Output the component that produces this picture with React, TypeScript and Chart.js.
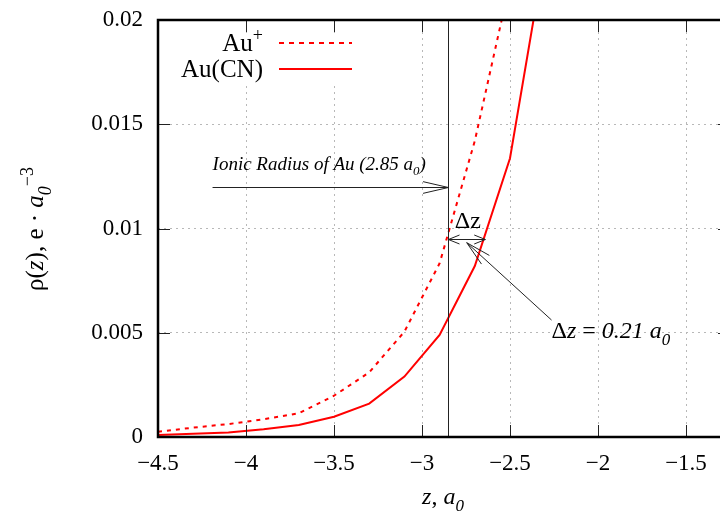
import React, { useEffect, useRef } from "react";
import { Chart, registerables } from "chart.js";

Chart.register(...registerables);

// ---- data ----
const zPoints = [-4.5, -4.3, -4.1, -3.9, -3.7, -3.5, -3.3, -3.1, -2.9, -2.7, -2.5, -2.3];
const rhoAuPlus = [0.00025, 0.00045, 0.00062, 0.00085, 0.00114, 0.00198, 0.0031, 0.00505, 0.00833, 0.0142, 0.0218];
const rhoAuCN = [0.0001, 0.00016, 0.00022, 0.00037, 0.00058, 0.00097, 0.0016, 0.0029, 0.0049, 0.0082, 0.01337, 0.0233];
const xTickValues = [-4.5, -4, -3.5, -3, -2.5, -2, -1.5];
const yTickValues = [0, 0.005, 0.01, 0.015, 0.02];
const seriesNames = ["Au", "Au(CN)"];
const seriesSup = ["+", ""];
const ionicRadiusZ = -2.85;
const deltaZ = 0.21;
const deltaArrowRho = 0.0095;
const ionicArrowRho = 0.012;
const ionicArrowStartZ = -4.19;

const FONT = '"Liberation Serif", "DejaVu Serif", serif';

type Seg = { t: string; it?: boolean; sub?: boolean; sup?: boolean };

function segFont(s: Seg, size: number) {
  const fs = s.sub || s.sup ? Math.round(size * 0.7) : size;
  return `${s.it ? "italic " : ""}${fs}px ${FONT}`;
}

function drawRich(
  ctx: CanvasRenderingContext2D,
  segs: Seg[],
  x: number,
  y: number,
  size: number,
  align: "left" | "right" | "center" = "left"
) {
  ctx.save();
  ctx.textBaseline = "alphabetic";
  ctx.textAlign = "left";
  const widths = segs.map((s) => {
    ctx.font = segFont(s, size);
    return ctx.measureText(s.t).width;
  });
  const total = widths.reduce((a, b) => a + b, 0);
  let cx = align === "left" ? x : align === "right" ? x - total : x - total / 2;
  segs.forEach((s, i) => {
    ctx.font = segFont(s, size);
    const dy = s.sub ? size * 0.3 : s.sup ? -size * 0.42 : 0;
    ctx.fillText(s.t, cx, y + dy);
    cx += widths[i];
  });
  ctx.restore();
}

function head(
  ctx: CanvasRenderingContext2D,
  tx: number,
  ty: number,
  fx: number,
  fy: number,
  len: number,
  angDeg: number
) {
  const a = Math.atan2(ty - fy, tx - fx);
  const d = (angDeg * Math.PI) / 180;
  ctx.beginPath();
  ctx.moveTo(tx - len * Math.cos(a - d), ty - len * Math.sin(a - d));
  ctx.lineTo(tx, ty);
  ctx.lineTo(tx - len * Math.cos(a + d), ty - len * Math.sin(a + d));
  ctx.stroke();
}

const fmt = (v: number) => (v < 0 ? "\u2212" + Math.abs(v) : String(v));

const overlay = {
  id: "overlay",
  beforeDatasetsDraw(chart: any) {
    const { ctx, chartArea: ca } = chart;
    ctx.save();
    ctx.fillStyle = "#ffffff";
    ctx.fillRect(ca.left + 3, ca.top + 13, 200, 51);
    ctx.restore();
  },
  afterDraw(chart: any) {
    const { ctx, chartArea: ca } = chart;
    const xs = chart.scales.x;
    const ys = chart.scales.y;
    const X = (v: number) => xs.getPixelForValue(v);
    const Y = (v: number) => ys.getPixelForValue(v);

    ctx.save();
    // vertical line at ionic radius
    ctx.strokeStyle = "#222";
    ctx.lineWidth = 1;
    ctx.beginPath();
    ctx.moveTo(Math.round(X(ionicRadiusZ)) + 0.5, ca.top);
    ctx.lineTo(Math.round(X(ionicRadiusZ)) + 0.5, ca.bottom);
    ctx.stroke();

    // ionic radius arrow
    const iy = Math.round(Y(ionicArrowRho)) + 0.5;
    ctx.beginPath();
    ctx.moveTo(X(ionicArrowStartZ), iy);
    ctx.lineTo(X(ionicRadiusZ), iy);
    ctx.stroke();
    head(ctx, X(ionicRadiusZ), iy, X(ionicArrowStartZ), iy, 26, 13);
    ctx.fillStyle = "#000";
    drawRich(
      ctx,
      [
        { t: "Ionic Radius of Au (2.85 ", it: true },
        { t: "a", it: true },
        { t: "0", it: true, sub: true },
        { t: ")", it: true },
      ],
      X(ionicArrowStartZ),
      iy - 18,
      19,
      "left"
    );

    // delta z double arrow
    const dy = Math.round(Y(deltaArrowRho)) + 0.5;
    const x1 = X(ionicRadiusZ);
    const x2 = X(ionicRadiusZ + deltaZ);
    ctx.beginPath();
    ctx.moveTo(x1, dy);
    ctx.lineTo(x2, dy);
    ctx.stroke();
    head(ctx, x1, dy, x2, dy, 12, 22);
    head(ctx, x2, dy, x1, dy, 12, 22);
    drawRich(ctx, [{ t: "\u0394z" }], (x1 + x2) / 2 + 1, dy - 12, 24, "center");

    // leader arrow to label
    const lx0 = X(-2.264), ly0 = Y(0.00561);
    const lx1 = X(-2.746), ly1 = Y(0.00932);
    ctx.beginPath();
    ctx.moveTo(lx0, ly0);
    ctx.lineTo(lx1, ly1);
    ctx.stroke();
    head(ctx, lx1, ly1, lx0, ly0, 26, 13);
    drawRich(
      ctx,
      [
        { t: "\u0394" },
        { t: "z", it: true },
        { t: " = " },
        { t: "0.21 a", it: true },
        { t: "0", it: true, sub: true },
      ],
      lx0,
      ly0 + 18,
      24,
      "left"
    );

    // inward tick marks
    ctx.strokeStyle = "#222";
    ctx.lineWidth = 1;
    xTickValues.forEach((v) => {
      const px = Math.round(X(v)) + 0.5;
      ctx.beginPath();
      ctx.moveTo(px, ca.bottom);
      ctx.lineTo(px, ca.bottom - 12);
      ctx.moveTo(px, ca.top);
      ctx.lineTo(px, ca.top + 12);
      ctx.stroke();
    });
    yTickValues.forEach((v) => {
      const py = Math.round(Y(v)) + 0.5;
      ctx.beginPath();
      ctx.moveTo(ca.left, py);
      ctx.lineTo(ca.left + 12, py);
      ctx.moveTo(ca.right, py);
      ctx.lineTo(ca.right - 12, py);
      ctx.stroke();
    });

    // frame
    ctx.strokeStyle = "#000";
    ctx.lineWidth = 2.5;
    ctx.strokeRect(ca.left, ca.top, ca.right - ca.left, ca.bottom - ca.top);

    // legend
    const ly = [43, 69];
    const textRight = ca.left + 105;
    const sx0 = ca.left + 121;
    const sx1 = ca.left + 194;
    seriesNames.forEach((name, i) => {
      const segs: Seg[] = [{ t: name }];
      if (seriesSup[i]) segs.push({ t: seriesSup[i], sup: true });
      ctx.fillStyle = "#000";
      drawRich(ctx, segs, textRight, ly[i] + 8, 25, "right");
      ctx.strokeStyle = "#ff0000";
      ctx.lineWidth = 2;
      ctx.setLineDash(i === 0 ? [5, 5] : []);
      ctx.beginPath();
      ctx.moveTo(sx0, ly[i]);
      ctx.lineTo(sx1, ly[i]);
      ctx.stroke();
      ctx.setLineDash([]);
    });

    // axis titles
    ctx.fillStyle = "#000";
    drawRich(
      ctx,
      [{ t: "z", it: true }, { t: ", " }, { t: "a", it: true }, { t: "0", it: true, sub: true }],
      443,
      504,
      24,
      "center"
    );
    ctx.save();
    ctx.translate(43, 229);
    ctx.rotate(-Math.PI / 2);
    drawRich(
      ctx,
      [
        { t: "\u03c1(" },
        { t: "z", it: true },
        { t: "), e \u00b7 " },
        { t: "a", it: true },
        { t: "0", it: true, sub: true },
        { t: "\u22123", sup: true },
      ],
      0,
      0,
      25,
      "center"
    );
    ctx.restore();
    ctx.restore();
  },
};

export default function App() {
  const ref = useRef<HTMLCanvasElement | null>(null);

  useEffect(() => {
    if (!ref.current) return;
    const chart = new Chart(ref.current, {
      type: "line",
      data: {
        datasets: [
          {
            label: seriesNames[0] + seriesSup[0],
            data: rhoAuPlus.map((y, i) => ({ x: zPoints[i], y })),
            borderColor: "#ff0000",
            borderWidth: 2,
            borderDash: [4, 5],
            pointRadius: 0,
            tension: 0,
            fill: false,
          },
          {
            label: seriesNames[1],
            data: rhoAuCN.map((y, i) => ({ x: zPoints[i], y })),
            borderColor: "#ff0000",
            borderWidth: 2,
            pointRadius: 0,
            tension: 0,
            fill: false,
          },
        ],
      },
      options: {
        responsive: false,
        maintainAspectRatio: false,
        devicePixelRatio: 1,
        animation: false,
        events: [],
        layout: { padding: { left: 0, top: 20, right: 10, bottom: 0 } },
        plugins: { legend: { display: false }, tooltip: { enabled: false } },
        scales: {
          x: {
            type: "linear",
            min: -4.5,
            max: -1.25,
            afterBuildTicks: (s: any) => {
              s.ticks = xTickValues.map((v) => ({ value: v }));
            },
            afterFit: (s: any) => {
              s.height = 75;
              s.paddingLeft = 0;
              s.paddingRight = 0;
            },
            ticks: {
              callback: (v: any) => fmt(Number(v)),
              color: "#000",
              font: { family: FONT, size: 23 },
              padding: 13,
              maxRotation: 0,
              autoSkip: false,
            },
            grid: { color: "#b8b8b8", lineWidth: 1, drawTicks: false },
            border: { display: false, dash: [2, 4] },
          },
          y: {
            type: "linear",
            min: 0,
            max: 0.02,
            afterBuildTicks: (s: any) => {
              s.ticks = yTickValues.map((v) => ({ value: v }));
            },
            afterFit: (s: any) => {
              s.width = 158;
              s.paddingTop = 0;
              s.paddingBottom = 0;
            },
            ticks: {
              callback: (v: any) => fmt(Number(v)),
              color: "#000",
              font: { family: FONT, size: 23 },
              padding: 15,
              autoSkip: false,
            },
            grid: { color: "#b8b8b8", lineWidth: 1, drawTicks: false },
            border: { display: false, dash: [2, 4] },
          },
        },
      },
      plugins: [overlay],
    } as any);
    return () => chart.destroy();
  }, []);

  return (
    <div
      style={{
        position: "fixed",
        left: 0,
        top: 0,
        width: 720,
        height: 512,
        overflow: "hidden",
        background: "#fff",
      }}
    >
      <canvas ref={ref} width={740} height={512} style={{ display: "block", width: 740, height: 512 }} />
    </div>
  );
}
